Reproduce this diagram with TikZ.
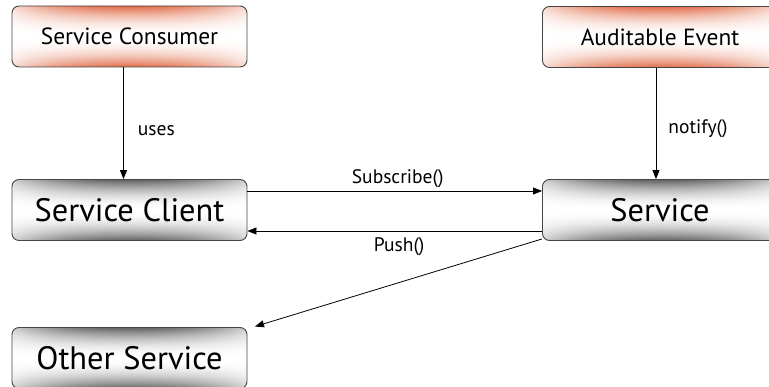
\documentclass[tikz,border=0pt]{standalone}
\usepackage{fontspec}
\setmainfont{PT Sans}
\usetikzlibrary{arrows.meta}

\definecolor{boxedge}{RGB}{70,70,70}

% Glow shadings: colour is strong along the top and bottom edges near the
% middle, fading to white towards the centre line and towards the sides.
% Stack on entry: x y (path spans -25bp..25bp).
\pgfdeclarefunctionalshading{warmglow}{\pgfpoint{-50bp}{-50bp}}{\pgfpoint{50bp}{50bp}}{}{
  abs 25 div dup 1 gt {pop 1} if dup mul
  exch abs 25 div dup 1 gt {pop 1} if dup mul 0.75 mul 1 exch sub
  mul
  dup 0.12 mul 1 exch sub exch
  dup 0.58 mul 1 exch sub exch
  0.72 mul 1 exch sub
}
\pgfdeclarefunctionalshading{steelglow}{\pgfpoint{-50bp}{-50bp}}{\pgfpoint{50bp}{50bp}}{}{
  abs 25 div dup 1 gt {pop 1} if dup mul
  exch abs 25 div dup 1 gt {pop 1} if dup mul 0.7 mul 1 exch sub
  mul
  0.62 mul 1 exch sub
  dup dup
}

\tikzset{
  basebox/.style={
    draw=boxedge, line width=0.9pt, rounded corners=7pt,
    minimum width=235pt, minimum height=61pt, inner sep=0pt},
  actorbox/.style={basebox, shading=warmglow,
    font=\fontsize{23.4}{26}\selectfont},
  compbox/.style={basebox, shading=steelglow,
    font=\fontsize{32.4}{36}\selectfont},
  link/.style={draw=black, line width=0.8pt,
    -{Triangle[length=9pt,width=7pt]}},
  tag/.style={font=\fontsize{19.5}{22}\selectfont, inner sep=0pt}
}

\begin{document}
\begin{tikzpicture}[x=1pt, y=-1pt]
  \useasboundingbox (0,0) rectangle (769,387);
  \clip (0,0) rectangle (769,387);

  % callers on the top row
  \node[actorbox] (cons) at (129.5,36.5) {Service Consumer};
  \node[actorbox] (audit) at (660,37) {Auditable Event};

  % components
  \node[compbox] (client) at (129.5,210) {Service Client};
  \node[compbox] (serv) at (660,210) {Service};
  \node[compbox] (other) at (129.5,358) {Other Service};

  \coordinate (tipother) at (255,326.5);

  % calls between them
  \draw[link] ([xshift=-6pt]cons.south) -- ([xshift=-6pt]client.north)
    node[tag, pos=0.57, right=14pt] {uses};
  \draw[link] ([xshift=-4pt]audit.south) -- ([xshift=-4pt]serv.north)
    node[tag, pos=0.55, right=12pt] {notify()};
  \draw[link] ([yshift=19pt]client.east) -- ([yshift=19pt]serv.west)
    node[tag, pos=0.51, above=3pt] {Subscribe()};
  \draw[link] ([yshift=-21pt]serv.west) -- ([yshift=-21pt]client.east)
    node[tag, pos=0.485, below=6pt] {Push()};
  \draw[link] ([yshift=2pt]serv.south west) -- (tipother);
\end{tikzpicture}
\end{document}
